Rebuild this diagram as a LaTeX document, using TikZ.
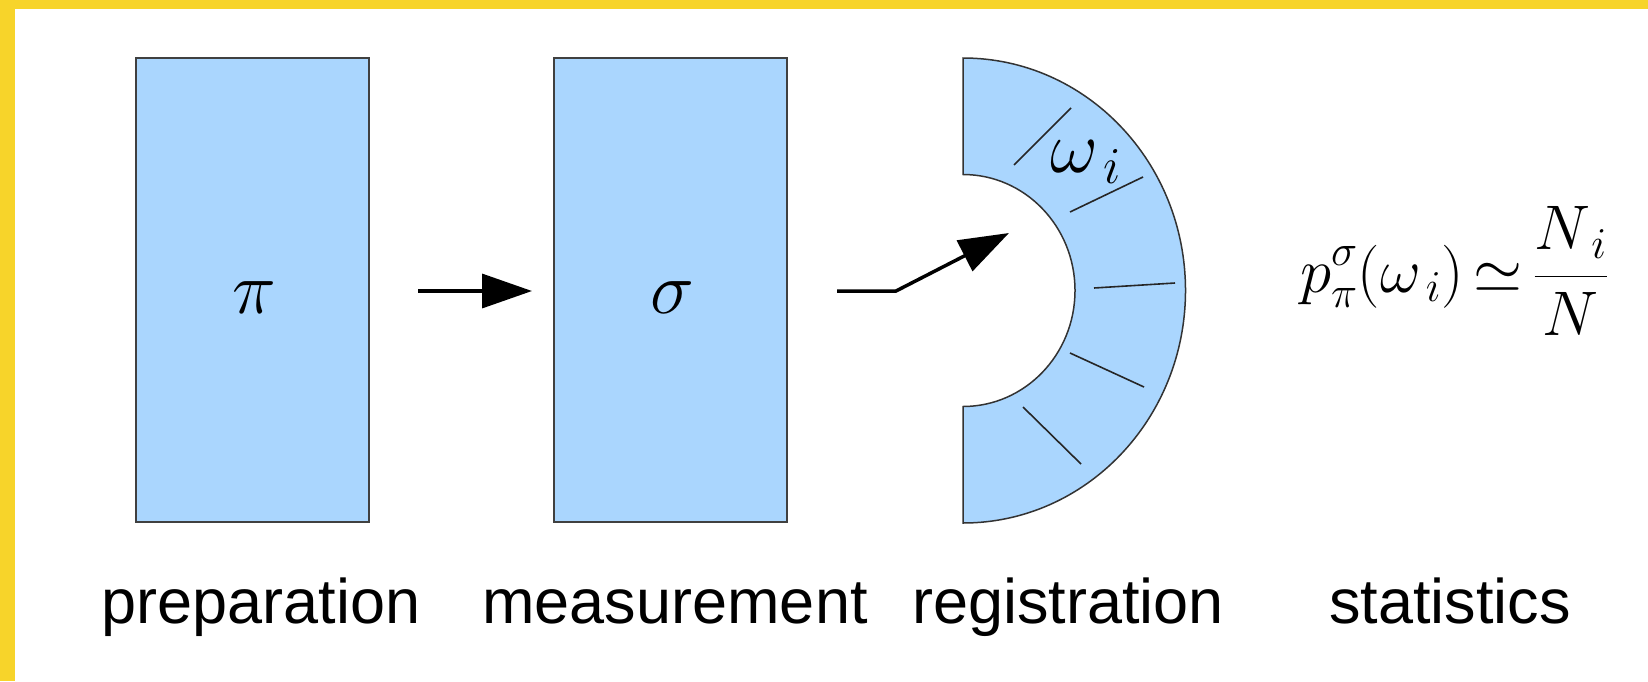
\RequirePackage{fix-cm}
\documentclass[tikz,border=0pt]{standalone}
\usepackage{fontspec}
\usepackage{amsmath}
\usetikzlibrary{arrows.meta}
\newfontfamily\labfont{Liberation Sans}
\definecolor{fillblue}{RGB}{170,214,254}
\definecolor{yel}{RGB}{247,212,42}
\begin{document}
\begin{tikzpicture}[x=1pt,y=-1pt,
  box/.style={draw=black!75, line width=2pt, fill=fillblue, inner sep=0pt, outer sep=0pt},
  conn/.style={line width=3.5pt, -{Triangle[length=50pt,width=34pt]}},
  lab/.style={anchor=base, inner sep=0pt, font=\labfont\fontsize{63}{63}\selectfont},
  sym/.style={inner sep=0pt, font=\fontsize{74}{74}\selectfont},
  tickline/.style={line width=1.6pt, draw=black!85}]
\fill[white] (0,0) rectangle (1648,681);
\fill[yel] (0,0) rectangle (1648,9);
\fill[yel] (0,0) rectangle (15,681);
\useasboundingbox (0,0) rectangle (1648,681);
% boxes
\node[box, minimum width=233pt, minimum height=464pt] (prep) at (252.5,290) {};
\node[box, minimum width=233pt, minimum height=464pt] (meas) at (670.5,290) {};
\node[sym, anchor=base] (pi) at (254,313) {$\pi$};
\node[sym, anchor=base] (sigma) at (672,313) {$\sigma$};
% registration detector
\coordinate (rc) at (963,290.5);
\draw[fill=fillblue, draw=black!80, line width=1.5pt]
  (963,58) arc[start angle=-90, end angle=90, x radius=222.5, y radius=232.5]
  -- (963,406.5) arc[start angle=90, end angle=-90, x radius=112, y radius=116] -- cycle;
\draw[tickline] (1014,165) -- (1071,108);
\draw[tickline] (1070,212) -- (1143,177);
\draw[tickline] (1094,288) -- (1175,283);
\draw[tickline] (1070,353) -- (1144,387);
\draw[tickline] (1023,407) -- (1081,464);
\node[sym, anchor=base west] (om) at (1050,172) {$\omega_{\,i}$};
% connectors
\draw[conn] ([xshift=49pt,yshift=-1pt]prep.east) -- ([xshift=-22pt,yshift=-1pt]meas.west);
\coordinate (hit) at (1009,233);
\draw[conn] ([xshift=50pt,yshift=-1pt]meas.east) -- ++(59,0) -- (hit);
% formula
\node[anchor=base west, inner sep=0pt, font=\fontsize{63}{63}\selectfont] (stat) at (1300,292)
  {$\displaystyle p^{\sigma}_{\pi}(\omega_{\,i})\mskip-2mu\simeq\mskip-2mu\frac{N_{\,i}}{N}$};
% labels
\node[lab] (l1) at (261,623) {preparation};
\node[lab] (l2) at (675,623) {measurement};
\node[lab] (l3) at (1068,623) {registration};
\node[lab] (l4) at (1450,623) {statistics};
\end{tikzpicture}
\end{document}
